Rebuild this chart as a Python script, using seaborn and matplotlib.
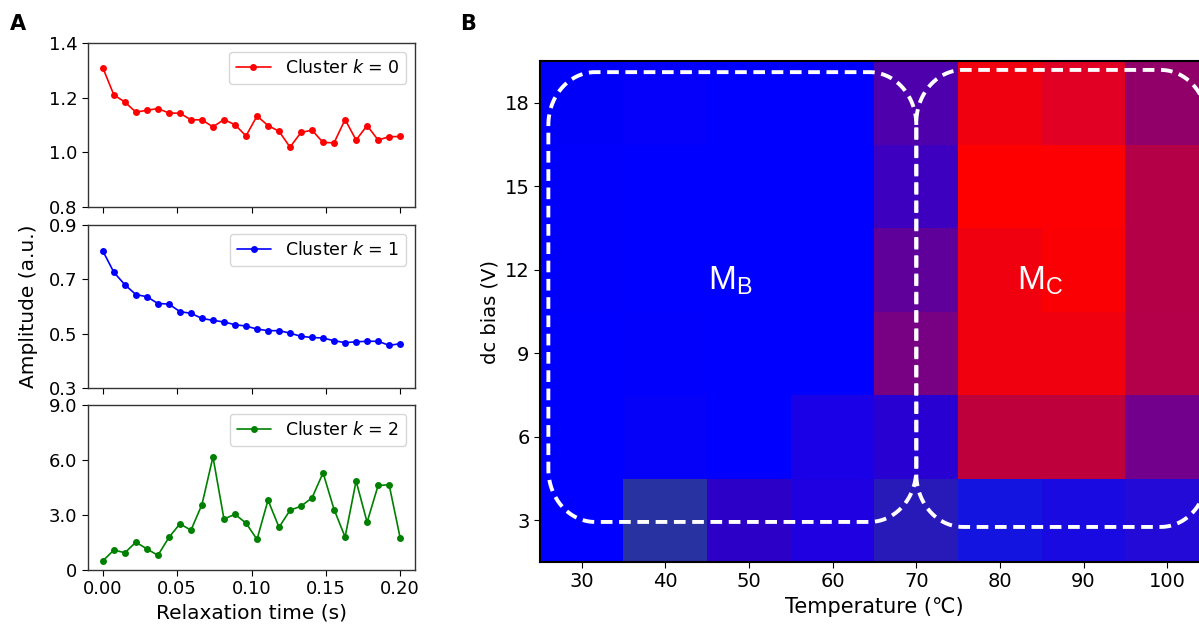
import numpy as np
import pandas as pd
import seaborn as sns
import matplotlib.pyplot as plt

# relaxation curves for the three clusters
n_pts = 28
time_s = np.linspace(0, 0.2, n_pts)

amp_k0 = [1.309, 1.210, 1.184, 1.147, 1.154, 1.160, 1.144, 1.143, 1.119, 1.119,
          1.093, 1.120, 1.101, 1.060, 1.133, 1.098, 1.077, 1.019, 1.073, 1.081,
          1.036, 1.035, 1.120, 1.045, 1.098, 1.045, 1.057, 1.058]
amp_k1 = [0.804, 0.726, 0.680, 0.644, 0.636, 0.611, 0.609, 0.581, 0.575, 0.556,
          0.549, 0.543, 0.533, 0.528, 0.517, 0.511, 0.511, 0.502, 0.490, 0.486,
          0.484, 0.474, 0.467, 0.470, 0.472, 0.472, 0.457, 0.463]
amp_k2 = [0.50, 1.09, 0.94, 1.52, 1.15, 0.80, 1.78, 2.52, 2.17, 3.57,
          6.17, 2.78, 3.04, 2.56, 1.67, 3.81, 2.33, 3.26, 3.48, 3.94,
          5.30, 3.30, 1.80, 4.85, 2.61, 4.61, 4.65, 1.76]

ylims = [(0.8, 1.4), (0.3, 0.9), (0, 9.0)]
yticks = [[0.8, 1.0, 1.2, 1.4], [0.3, 0.5, 0.7, 0.9], [0, 3.0, 6.0, 9.0]]
yticklabels = [["0.8", "1.0", "1.2", "1.4"], ["0.3", "0.5", "0.7", "0.9"],
               ["0", "3.0", "6.0", "9.0"]]
line_colors = ["red", "blue", "green"]

# phase map: temperature x dc bias, RGB mix per cell (rows from 3 V to 18 V)
temps = [30, 40, 50, 60, 70, 80, 90, 100]
biases = [3, 6, 9, 12, 15, 18]
red_ch = [[0, 40, 45, 30, 40, 20, 25, 35],
          [0, 5, 0, 25, 40, 190, 190, 115],
          [0, 0, 0, 0, 120, 240, 240, 180],
          [0, 0, 0, 0, 95, 240, 250, 180],
          [0, 0, 0, 0, 60, 255, 252, 180],
          [0, 5, 0, 0, 78, 240, 225, 145]]
green_ch = [[0, 50, 0, 0, 25, 20, 10, 10],
            [0, 0, 0, 0, 0, 0, 0, 0],
            [0, 0, 0, 0, 0, 0, 0, 0],
            [0, 0, 0, 0, 0, 0, 0, 0],
            [0, 0, 0, 0, 0, 0, 0, 0],
            [0, 0, 0, 0, 0, 0, 0, 0]]
blue_ch = [[255, 160, 200, 225, 185, 225, 225, 215],
           [255, 248, 255, 230, 210, 60, 60, 140],
           [255, 252, 255, 255, 130, 15, 15, 75],
           [252, 255, 255, 255, 155, 15, 5, 70],
           [252, 255, 255, 255, 190, 0, 3, 70],
           [250, 250, 255, 255, 172, 15, 35, 105]]

# phase regions (T range, bias range) for the dashed outlines
region_mb = (26.0, 70, 2.93, 19.11)
region_mc = (70, 104.8, 2.75, 19.19)


def rounded_outline(x0, x1, y0, y1, rx, ry, n=30):
    # closed rounded rectangle with elliptical corners
    t = np.linspace(0, np.pi / 2, n)
    xs, ys = [], []
    corners = [(x1 - rx, y1 - ry, 0), (x0 + rx, y1 - ry, np.pi / 2),
               (x0 + rx, y0 + ry, np.pi), (x1 - rx, y0 + ry, 1.5 * np.pi)]
    for cx, cy, a0 in corners:
        xs.extend(cx + rx * np.cos(a0 + t))
        ys.extend(cy + ry * np.sin(a0 + t))
    xs.append(xs[0])
    ys.append(ys[0])
    return xs, ys


sns.set_style("ticks", {"axes.edgecolor": "black", "text.color": "black",
                        "xtick.color": "black", "ytick.color": "black",
                        "axes.labelcolor": "black"})
plt.rcParams["font.family"] = ["DejaVu Sans"]

fig = plt.figure(figsize=(11.99, 6.25), dpi=100)

# ---- panel A
left, width = 88 / 1199, 327 / 1199
boxes = [(43, 207), (225, 388), (405, 570)]
axs = []
for top, bot in boxes:
    axs.append(fig.add_axes([left, (625 - bot) / 625, width, (bot - top) / 625]))

amps = [amp_k0, amp_k1, amp_k2]
for i, ax in enumerate(axs):
    df = pd.DataFrame({"t": time_s, "amp": amps[i]})
    sns.lineplot(data=df, x="t", y="amp", ax=ax, color=line_colors[i],
                 marker="o", markersize=5, markeredgewidth=0, linewidth=1.2,
                 label="Cluster $k$ = %d" % i)
    ax.set_xlim(-0.01, 0.21)
    ax.set_ylim(*ylims[i])
    ax.set_yticks(yticks[i])
    ax.set_yticklabels(yticklabels[i])
    ax.set_xticks([0, 0.05, 0.10, 0.15, 0.20])
    ax.set_xlabel("")
    ax.set_ylabel("")
    ax.tick_params(labelsize=13, length=4)
    for s in ax.spines.values():
        s.set_linewidth(1.0)
        s.set_color("0.2")
    ax.legend(loc="upper right", fontsize=12.5, frameon=True, edgecolor="0.8",
              handlelength=2.0, borderpad=0.4)
    if i < 2:
        ax.set_xticklabels([])
axs[2].set_xticklabels(["0.00", "0.05", "0.10", "0.15", "0.20"])
axs[2].set_xlabel("Relaxation time (s)", fontsize=14.5)
axs[1].set_ylabel("Amplitude (a.u.)", fontsize=14.5, labelpad=8)

# ---- panel B
axb = fig.add_axes([540 / 1199, 63.3 / 625, 669 / 1199, 500.4 / 625])
rgb = np.dstack([red_ch, green_ch, blue_ch]) / 255.0
axb.imshow(rgb, origin="lower", aspect="auto", interpolation="nearest",
           extent=(temps[0] - 5, temps[-1] + 5, biases[0] - 1.5, biases[-1] + 1.5))
axb.set_xlim(temps[0] - 5, temps[-1] + 5)
axb.set_ylim(biases[0] - 1.5, biases[-1] + 1.5)
axb.set_xticks(temps)
axb.set_yticks(biases)
axb.tick_params(labelsize=14, length=4)
for s in axb.spines.values():
    s.set_linewidth(1.5)
axb.set_xlabel("Temperature (℃)", fontsize=15)
axb.set_ylabel("dc bias (V)", fontsize=14)

for reg in [region_mb, region_mc]:
    xs, ys = rounded_outline(*reg, rx=5.6, ry=1.9)
    axb.plot(xs, ys, color="white", linewidth=2.8, linestyle=(0, (3, 1.7)),
             clip_on=False, solid_capstyle="butt")

axb.text(47.7, 11.6, r"M$_\mathregular{B}$", color="white", fontsize=24,
         ha="center", va="center", family="Liberation Sans")
axb.text(84.8, 11.6, r"M$_\mathregular{C}$", color="white", fontsize=24,
         ha="center", va="center", family="Liberation Sans")

fig.text(0.008, 0.962, "A", fontsize=15, fontweight="bold", va="center")
fig.text(0.384, 0.962, "B", fontsize=15, fontweight="bold", va="center")

plt.savefig("out.png", dpi=100)
plt.close()
